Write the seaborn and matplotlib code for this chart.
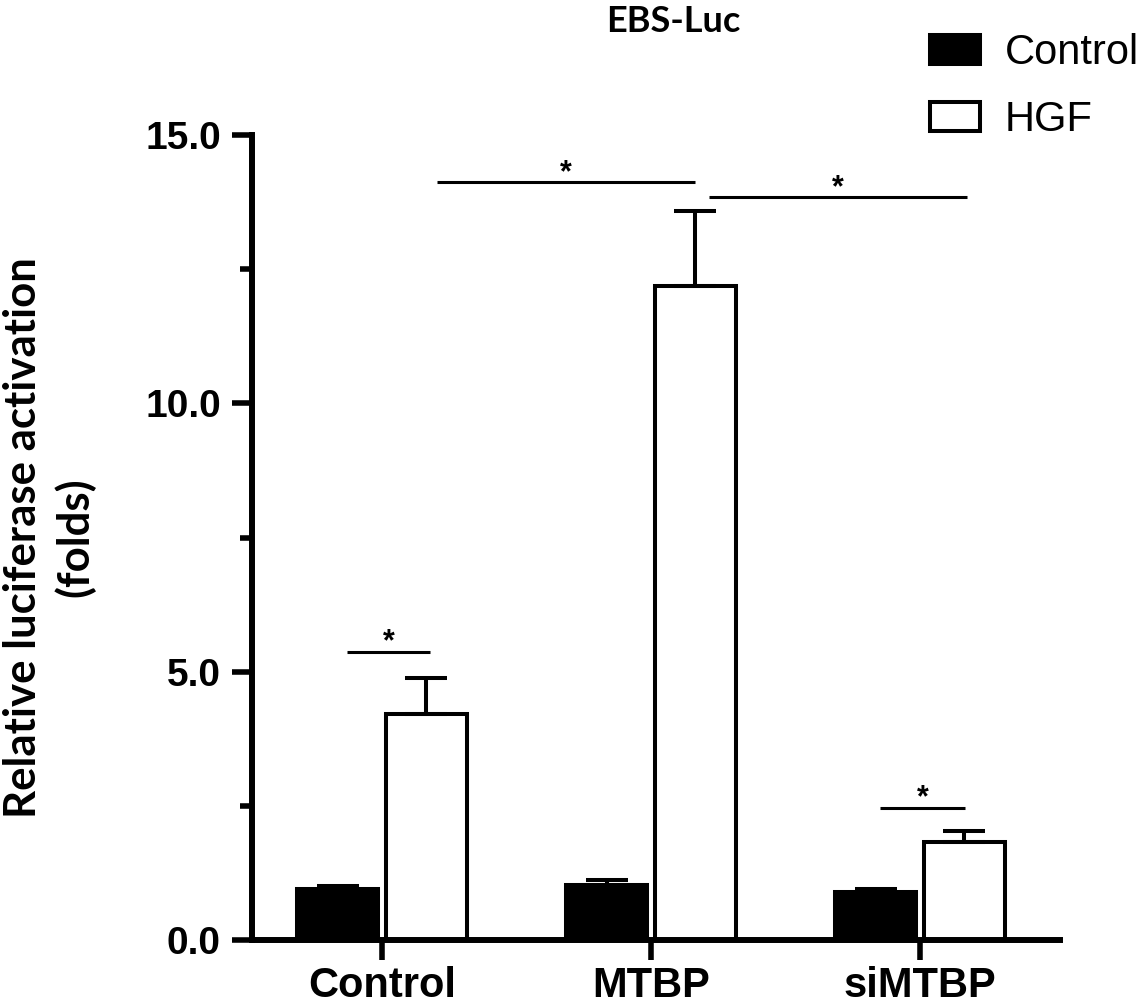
import numpy as np
import pandas as pd
import seaborn as sns
import matplotlib.pyplot as plt
from matplotlib.ticker import MultipleLocator, FormatStrFormatter

groups = ['Control', 'MTBP', 'siMTBP']
treatments = ['Control', 'HGF']
ctrl_mean = [0.95, 1.03, 0.90]
ctrl_err = [0.06, 0.09, 0.05]
hgf_mean = [4.22, 12.18, 1.83]
hgf_err = [0.66, 1.40, 0.21]

# significance brackets: (left group, left hue, right group, right hue, height)
brackets = [
    (0, 1, 1, 1, 14.12),
    (1, 1, 2, 1, 13.84),
    (0, 0, 0, 1, 5.37),
    (2, 0, 2, 1, 2.46),
]
bracket_trim = [(0.04, 0.0), (0.05, 0.01), (0.034, 0.014), (0.017, 0.003)]

df = pd.DataFrame({
    'group': groups * 2,
    'treatment': ['Control'] * 3 + ['HGF'] * 3,
    'value': ctrl_mean + hgf_mean,
})

sns.set_style('ticks', {'axes.edgecolor': 'black', 'xtick.color': 'black',
                        'ytick.color': 'black', 'text.color': 'black',
                        'axes.labelcolor': 'black'})
plt.rcParams['font.family'] = ['Liberation Sans', 'DejaVu Sans']

fig = plt.figure(figsize=(11.42, 10.06), dpi=100)
ax = fig.add_axes([0.2207, 0.0656, 0.9282 - 0.2207, 0.8658 - 0.0656])

sns.barplot(data=df, x='group', y='value', hue='treatment', order=groups,
            hue_order=treatments, palette={'Control': 'black', 'HGF': 'white'},
            edgecolor='black', linewidth=2.9, width=0.66, gap=0.09,
            errorbar=None, ax=ax)

# upper-only error bars
centers = []
for cont, err in zip(ax.containers, [ctrl_err, hgf_err]):
    xs = [p.get_x() + p.get_width() / 2 for p in cont.patches]
    ys = [p.get_height() for p in cont.patches]
    centers.append(xs)
    ax.errorbar(xs, ys, yerr=[np.zeros(len(err)), err], fmt='none',
                ecolor='black', elinewidth=2.9, capsize=15, capthick=2.9,
                zorder=1)

for (g1, h1, g2, h2, y), (t1, t2) in zip(brackets, bracket_trim):
    x1 = centers[h1][g1] + t1
    x2 = centers[h2][g2] + t2
    ax.plot([x1, x2], [y, y], color='black', lw=2.2, solid_capstyle='butt')
    ax.annotate('*', xy=((x1 + x2) / 2, y), xytext=(0, 1),
                textcoords='offset points', ha='center', va='baseline',
                fontsize=22, fontweight='bold', color='black')

ax.set_xlim(-0.483, 2.52)
ax.set_ylim(0, 15)
ax.yaxis.set_major_locator(MultipleLocator(5))
ax.yaxis.set_minor_locator(MultipleLocator(2.5))
ax.yaxis.set_major_formatter(FormatStrFormatter('%.1f'))

for s in ['top', 'right']:
    ax.spines[s].set_visible(False)
for s in ['left', 'bottom']:
    ax.spines[s].set_linewidth(4.3)
    ax.spines[s].set_color('black')

ax.tick_params(axis='y', which='major', length=14.4, width=4.0, pad=8,
               labelsize=28, colors='black')
ax.tick_params(axis='y', which='minor', length=8.6, width=4.0, colors='black')
ax.tick_params(axis='x', length=14.4, width=4.0, pad=4, labelsize=30,
               colors='black')
for lab in ax.get_xticklabels() + ax.get_yticklabels():
    lab.set_fontweight('bold')

ax.set_xlabel('')
ax.set_ylabel('Relative luciferase activation\n(folds)', fontsize=31.5,
              fontweight='bold', family=['Lato', 'DejaVu Sans'],
              linespacing=1.3, color='black')
ax.yaxis.set_label_coords(-0.194, 0.5)

fig.text(673 / 1142, 1 - 21 / 1006, 'EBS-Luc', ha='center', va='center',
         fontsize=26, fontweight='bold', family=['Lato', 'DejaVu Sans'],
         color='black')

handles, labels = ax.get_legend_handles_labels()
ax.get_legend().remove()
fig.legend(handles, labels, loc='upper left',
           bbox_to_anchor=(930 / 1142, 1 - 33 / 1006), frameon=False,
           fontsize=30, handlelength=1.2, handleheight=0.72,
           handletextpad=0.6, labelspacing=0.65, borderpad=0,
           borderaxespad=0)

fig.savefig('out.png', dpi=100)
